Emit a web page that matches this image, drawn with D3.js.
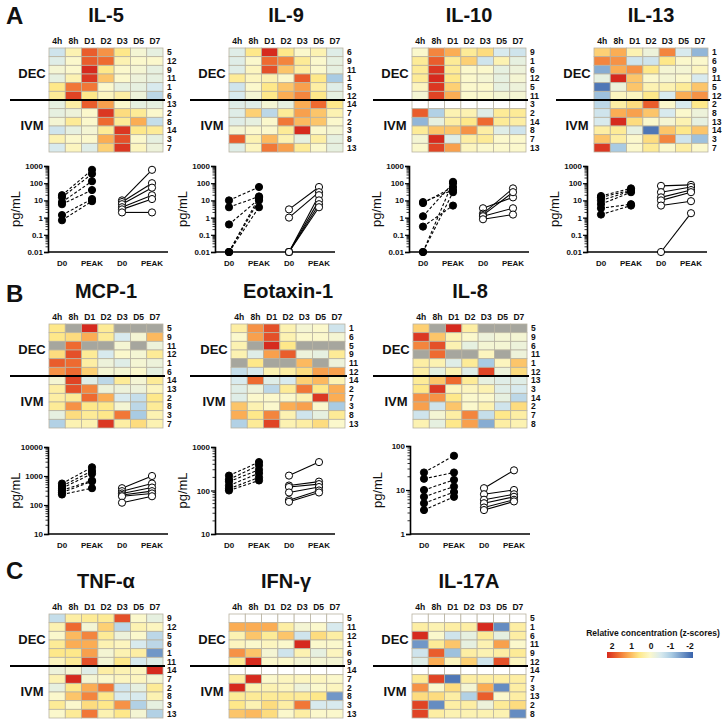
<!DOCTYPE html>
<html>
<head>
<meta charset="utf-8">
<script src="https://cdn.jsdelivr.net/npm/d3@7"></script>
<style>
  body { margin: 0; background: #fff; }
  text { font-family: "Liberation Sans", Arial, sans-serif; font-weight: bold; fill: #111; }
</style>
</head>
<body>
<svg width="727" height="723"></svg>
<script>
const timepoints = ["4h", "8h", "D1", "D2", "D3", "D5", "D7"];
const G = null; // below detection (grey)
const W = NaN;  // no sample (white)

// ---- heatmap z-scores (rows top to bottom, columns = timepoints)
const il5Rows = ["5","12","9","11","1","6","13","2","8","14","3","7"];
const il5Z = [
  [-0.6, 0.2, 1.6, 1.2, 0.5, -0.1, -0.3],
  [-0.4, 0, 1.6, 1.5, 0.2, 0, 0],
  [-0.1, 0, 2, 0.5, 0, -0.1, -0.3],
  [-0.3, 0.2, 1.9, 0.8, 0, -0.2, -0.3],
  [0.5, 1.4, 1.4, 0, -0.3, -0.3, -0.5],
  [0.4, 1.8, 0.5, 0.1, 0.3, -0.2, -0.8],
  [-0.3, 0.3, 1.6, 1.1, 0, -0.3, -0.3],
  [-0.3, -0.2, 0, 1.9, 0.6, 0.4, 0],
  [-0.1, 0.4, 0, 1.5, 0.4, 1.0, -0.7],
  [-0.6, -0.3, -0.1, 0.4, 1.9, 0.5, 0.4],
  [0.2, 0, 0, 1.0, 1.7, 0, -0.3],
  [-0.5, 0.1, -0.4, 0.7, 1.9, 0.1, -0.2]
];
const il9Rows = ["6","9","11","1","5","12","14","7","2","3","8","13"];
const il9Z = [
  [-0.4, 0.5, 2, 0.5, 0, 0.2, -0.4],
  [-0.4, 0, 1.5, 1.3, 0.4, 0, -0.3],
  [-0.4, 0.1, 1.7, 0.8, 0.3, 0, -0.3],
  [0.4, 0.1, 0.2, 0, 1.6, 0.5, -1.0],
  [-0.6, 0, 0.5, 0.8, 1.1, 0.3, -0.4],
  [-0.5, -0.1, 0.5, 1.0, 1.3, 0.5, -0.3],
  [-0.4, -0.4, -0.1, -0.3, 1.0, 1.5, 0.5],
  [-0.4, 0.7, -0.8, 0.4, 1.1, 0.8, 0.2],
  [-0.4, -0.3, 0, 1.4, 0.9, 0.8, 0],
  [-0.1, 0, 0, 0.4, 2.0, 0, -0.1],
  [1.6, 0.2, 0.9, 0.2, -0.3, 0.3, -0.3],
  [-0.4, 0.1, 1.4, 1.1, 0.4, 0, -0.3]
];
const il10Rows = ["9","1","6","12","5","11","3","2","14","8","7","13"];
const il10Z = [
  [0, 1.3, 1.0, 0.4, 0.6, -0.5, -0.6],
  [0.4, 1.6, 0.4, 0.7, -0.6, 0.2, -0.3],
  [0.4, 1.9, 0.4, 0, 0, -0.3, -0.2],
  [0.4, 2.0, 0.5, 0, -0.1, -0.3, -0.1],
  [0.1, 1.9, 0.7, 0, 0, -0.3, -0.2],
  [-0.1, 1.8, 1.0, 0, 0, -0.1, -0.1],
  [W, W, W, W, W, W, W],
  [1.6, -0.9, 0.2, 0.2, -0.4, 0.4, 0.4],
  [-1.2, -0.3, 0.3, 0.5, 1.5, 0.4, 0.3],
  [0.4, 0.8, 0.8, 1.2, 0.3, -0.4, -0.6],
  [-0.1, 2.0, -0.4, 0.3, 0.4, 0, 0],
  [0, 1.8, 1.1, 0.1, 0, 0, 0]
];
const il13Rows = ["1","6","9","11","5","12","2","8","13","14","3","7"];
const il13Z = [
  [0.7, 1.0, 0.2, -0.2, 1.3, -0.5, -1.2],
  [1.3, 1.2, -0.6, -0.6, 0.5, 0, 0],
  [-1.3, 1.0, 1.2, 0.5, -0.1, -0.1, 0.1],
  [-0.3, 2.0, 0.8, 0, -0.1, 0, -0.5],
  [-1.8, -0.2, 0.8, 0.2, 0.2, 0.4, 0.8],
  [-1.1, 0.1, 0.1, 0.5, -0.5, 1.0, 1.2],
  [-0.8, 0.3, 0.6, 1.6, 0, -0.5, 0.5],
  [-0.6, 1.0, 1.1, 0.8, -0.5, 0, -0.2],
  [-0.5, 2.0, 0.6, 0, -0.1, 0.2, -0.3],
  [0.3, 0.4, -0.3, -1.8, 0.8, 0.5, 0.8],
  [0.8, 0.3, 0, 0.6, 1.3, -0.6, -1.1],
  [1.9, -1.0, 0, 0.4, 0, 0.3, 0]
];
const mcpRows = ["5","9","11","12","1","6","14","13","2","8","3","7"];
const mcpZ = [
  [0.5, G, 2, 0.4, G, G, G],
  [0.5, 0.6, 1.0, 0.4, -0.5, -0.1, 0.9],
  [G, 1.5, G, G, -0.1, G, -0.2],
  [0.6, 1.7, 0.4, -0.5, 0, -0.1, 0.4],
  [1.6, 1.5, 0.3, -0.2, -0.4, -0.1, -0.2],
  [1.2, 1.5, 0.7, -0.1, -0.1, 0, -0.3],
  [-0.1, 1.8, -0.4, -0.8, 0.4, -0.1, 0.4],
  [0.3, 1.7, 1.3, -0.2, -0.2, -0.2, 0.1],
  [0.3, 0.4, 1.5, 1.0, -0.5, -0.7, 0.5],
  [0.4, 1.2, 0.5, 0.5, -0.1, -0.8, 0.4],
  [-0.3, 0.6, 0.4, 0.5, 1.4, -1.0, 0.2],
  [-0.9, 0.2, 0.2, 1.9, 0.3, 0.6, 0.2]
];
const eotRows = ["1","6","5","9","11","12","14","2","7","3","8","13"];
const eotZ = [
  [0.3, 1.2, 1.7, 0.2, -0.1, 0, -0.6],
  [0, 1.1, 1.7, 0.2, 0, 0, -0.1],
  [0.2, G, 2.0, 0.5, G, G, G],
  [0.2, -0.4, 1.1, 1.6, -0.2, -0.3, 0.4],
  [G, 0.5, G, G, 0.9, G, -0.2],
  [-0.7, -0.5, 0.2, 0.3, 0.6, 1.1, 1.1],
  [-0.5, 1.5, -0.4, -0.5, 0.7, 0.9, 0.2],
  [-0.4, -0.2, -0.8, 0.4, 1.4, 0.5, 1.0],
  [-0.4, 0, 0, 0, 0.2, 1.9, 1.0],
  [0.8, 0.2, 0, 1.0, 1.1, 0, -1.0],
  [1.0, 0.5, 1.3, 0.2, -0.6, -0.3, 0.4],
  [-0.9, 0.4, 1.8, 0.2, 0.3, 0.6, 0]
];
const il8Rows = ["5","9","6","11","1","12","13","3","14","2","7","8"];
const il8Z = [
  [0.7, G, 2.0, 0.3, G, G, G],
  [1.9, 0.8, 0.2, 0, -0.2, -0.1, -0.1],
  [1.3, 1.7, 0.2, -0.3, -0.1, -0.1, -0.2],
  [G, 1.5, G, G, 0.1, G, -0.2],
  [0.3, 0.2, -0.4, 0.4, -1.0, 0.1, 0.8],
  [0.3, -0.3, 0.2, -0.4, 1.8, -0.2, 0.6],
  [0.4, 0.8, 1.5, 0.4, -0.3, -0.4, -0.4],
  [0.5, 1.9, 0.1, 0.1, 0.2, -0.4, -0.5],
  [1.2, 1.2, 0.5, 0, 0, -0.3, -0.8],
  [1.1, -0.6, 0.8, 0, 0.2, -0.6, 0.6],
  [-0.6, -0.1, 0.3, 1.3, -0.7, 0.5, 0.3],
  [0.2, -0.3, 0.5, 1.1, -1.3, 0.3, 0.2]
];
const tnfRows = ["9","12","5","6","1","11","14","7","2","8","3","13"];
const tnfZ = [
  [-0.7, 0.3, 0.4, 0.4, 1.7, 0, -0.3],
  [0.2, 1.5, -0.1, 0.7, -0.8, 0.2, 0.1],
  [0, 0.9, 1.3, 0.4, -0.2, 0, -0.8],
  [0.4, 1.0, 1.0, 0.2, 0.1, -0.5, -0.8],
  [0.5, 0.5, 1.1, -0.1, 0.2, 0.3, -1.5],
  [0.1, 0.4, 1.7, -0.1, 0.5, -0.5, -0.4],
  [-0.2, -0.1, -0.4, 0.3, 0.2, 0.1, 2.0],
  [0.2, 2.0, -0.1, 0, 0.1, 0.1, -0.1],
  [-0.3, 0.5, 1.0, 1.4, -0.6, -0.3, 0.4],
  [0, 0.8, 1.3, 0.5, -0.5, -0.5, 0.2],
  [0.4, 0, 0.6, 0.5, 1.2, -0.9, -0.3],
  [0, 0.4, 1.4, 0.2, 0.5, -0.1, -0.9]
];
const ifnRows = ["5","11","12","1","6","9","14","7","2","8","3","13"];
const ifnZ = [
  [W, W, W, W, W, W, W],
  [1.0, 1.0, 1.0, 0.3, -0.1, 0, -0.5],
  [0.2, 0.8, 0.4, 0.8, -0.6, 0.6, 0.3],
  [0.1, 0, 0.1, 0, 2.0, 0, 0],
  [1.2, 0.8, -0.1, -0.6, 0.2, -0.3, 0.1],
  [0.4, 2.0, 0, 0, -0.1, -0.1, -0.1],
  [W, W, W, W, W, W, W],
  [0.3, 2.0, 0, 0.1, 0.1, 0.1, 0],
  [2.0, 0.2, 0.2, 0.1, -0.2, 0, 0.1],
  [0.4, 0.4, 0.4, 0.4, 0.4, 0.5, -1.5],
  [0.5, 0.2, 0.6, 0.3, 1.4, -0.5, -0.5],
  [0.8, 0.9, 0.6, 0, 0.3, 0, 0]
];
const il17Rows = ["5","1","6","11","9","12","14","7","3","13","2","8"];
const il17Z = [
  [W, W, W, W, W, W, W],
  [0.3, 0.2, 0.3, 0.3, 2.0, -1.6, 0.3],
  [2.0, 0, -0.6, -0.3, 0.4, -0.3, 0.3],
  [-1.5, 0.4, 0.8, -0.3, 0.2, 1.1, 0],
  [-0.6, 1.6, -1.1, 0.3, 0.2, 0.3, 0.4],
  [-0.4, 1.0, 0.1, 0.7, -0.6, 1.7, 0.1],
  [W, W, W, W, W, W, W],
  [0.4, 1.8, -1.8, 0.3, 0.3, 0.3, 0.3],
  [1.2, 0, 0.6, -0.1, 1.0, -1.6, 0.3],
  [0.6, 0.6, 0.3, -0.9, 1.6, 0, 0.3],
  [1.8, -1.6, 0.3, 0.3, -0.2, 0.4, 0.6],
  [1.8, 0.3, 0.2, 0.2, 0.2, 0.2, -1.6]
];

// ---- D0 vs PEAK concentrations (pg/mL)
const il5DecD0 = [20, 15, 8, 6, 1.4, 0.7];
const il5DecPeak = [600, 350, 130, 40, 12, 9];
const il5IvmD0 = [10, 8, 6, 4, 3, 2];
const il5IvmPeak = [600, 100, 55, 20, 12, 2];
const il9DecD0 = [10, 4, 0.4, 0.01, 0.01, 0.01];
const il9DecPeak = [60, 17, 12, 10, 4, 15];
const il9IvmD0 = [3, 1, 0.01, 0.01, 0.01, 0.01];
const il9IvmPeak = [60, 30, 20, 10, 6, 4];
const il10DecD0 = [8, 7, 1.2, 0.3, 0.01, 0.01];
const il10DecPeak = [40, 60, 100, 5, 120, 30];
const il10IvmD0 = [3.5, 1.7, 1.4, 1.2, 0.8];
const il10IvmPeak = [15, 50, 30, 3.5, 1.5];
const il13DecD0 = [18, 15, 10, 6, 3.5, 1.5];
const il13DecPeak = [50, 40, 35, 30, 6, 5];
const il13IvmD0 = [70, 30, 15, 10, 5, 0.01];
const il13IvmPeak = [80, 60, 40, 30, 9, 1.8];
const mcpDecD0 = [550, 450, 380, 320, 270, 230];
const mcpDecPeak = [2000, 1500, 1200, 700, 650, 380];
const mcpIvmD0 = [380, 300, 250, 220, 200, 120];
const mcpIvmPeak = [1000, 550, 400, 300, 250, 200];
const eotDecD0 = [220, 180, 160, 130, 110, 100];
const eotDecPeak = [450, 380, 300, 250, 200, 170];
const eotIvmD0 = [220, 130, 120, 90, 60, 55];
const eotIvmPeak = [450, 160, 140, 120, 100, 90];
const il8DecD0 = [25, 18, 10, 7, 5, 3.5];
const il8DecPeak = [60, 25, 17, 12, 9, 7];
const il8IvmD0 = [11, 8, 6, 5, 4, 3.5];
const il8IvmPeak = [28, 10, 8, 7, 6, 5.5];

const legendTicks = [2, 1, 0, -1, -2];

const svg = d3.select("svg");

const color = d3.scaleLinear()
  .domain([2, 1.5, 1, 0.5, 0, -0.5, -1, -2])
  .range(["#d62a1e", "#ee6a30", "#fbad54", "#fee88a", "#fbf8cc", "#d8eaee", "#a9cbe3", "#3862ab"])
  .clamp(true);

function heatmap(x0, y0, lineX0, title, rows, z) {
  const g = svg.append("g");
  const x = d3.scaleBand().domain(timepoints).range([x0, x0 + 114]);
  const y = d3.scaleBand().domain(rows).range([y0, y0 + 104]);

  g.append("text").attr("x", x0 + 57).attr("y", y0 - 26)
    .attr("text-anchor", "middle").style("font-size", "20px").text(title);

  g.selectAll(".col").data(timepoints).join("text")
    .attr("x", d => x(d) + x.bandwidth() / 2).attr("y", y0 - 4)
    .attr("text-anchor", "middle").style("font-size", "8.5px").text(d => d);

  rows.forEach((r, i) => {
    g.selectAll(null).data(z[i]).join("rect")
      .attr("x", (d, j) => x(timepoints[j])).attr("y", y(r))
      .attr("width", x.bandwidth()).attr("height", y.bandwidth())
      .attr("fill", d => d === null ? "#a6a69e" : Number.isNaN(d) ? "#fff" : color(d))
      .attr("stroke", "#b9b3a2").attr("stroke-width", 0.8);
    g.append("text").attr("x", x0 + 118).attr("y", y(r) + y.bandwidth() / 2 + 3)
      .style("font-size", "8.5px").text(r);
  });

  g.append("line").attr("x1", lineX0).attr("x2", x0 + 116)
    .attr("y1", y(rows[6])).attr("y2", y(rows[6]))
    .attr("stroke", "#000").attr("stroke-width", 1.8);

  g.append("text").attr("x", x0 - 17).attr("y", y0 + 30).attr("text-anchor", "middle")
    .style("font-size", "13px").text("DEC");
  g.append("text").attr("x", x0 - 17).attr("y", y0 + 82).attr("text-anchor", "middle")
    .style("font-size", "13px").text("IVM");
}

const fmtTick = v => v >= 1 ? d3.format("d")(v) : String(v);

function pairPlot(x0, yTop, yBot, domain, decD0, decPeak, ivmD0, ivmPeak) {
  const g = svg.append("g");
  const x = d3.scalePoint().domain(["dec0", "decP", "ivm0", "ivmP"]).range([x0 + 14, x0 + 104]);
  const y = d3.scaleLog().domain(domain).range([yBot, yTop]);
  const decades = y.ticks().filter(v => Math.abs(Math.log10(v) - Math.round(Math.log10(v))) < 1e-6);

  const axis = d3.axisLeft(y).tickValues(decades).tickFormat(fmtTick).tickSize(4);
  const ax = g.append("g").attr("transform", `translate(${x0},0)`).call(axis);
  ax.select(".domain").attr("stroke-width", 1.6);
  ax.selectAll(".tick line").attr("stroke-width", 1.2);
  ax.selectAll(".tick text").style("font-size", "8px").attr("x", -5);

  g.selectAll(".minor").data(y.ticks().filter(v => !decades.includes(v))).join("line")
    .attr("x1", x0 - 2.5).attr("x2", x0).attr("y1", d => y(d)).attr("y2", d => y(d))
    .attr("stroke", "#000").attr("stroke-width", 0.8);

  g.append("line").attr("x1", x0).attr("x2", x0 + 120).attr("y1", yBot).attr("y2", yBot)
    .attr("stroke", "#000").attr("stroke-width", 1.6);

  [["dec0", "D0"], ["decP", "PEAK"], ["ivm0", "D0"], ["ivmP", "PEAK"]].forEach(([k, t]) => {
    g.append("text").attr("x", x(k)).attr("y", yBot + 14).attr("text-anchor", "middle")
      .style("font-size", "8px").text(t);
  });

  g.append("text").attr("transform", `translate(${x0 - 28},${(yTop + yBot) / 2}) rotate(-90)`)
    .attr("text-anchor", "middle").style("font-size", "13px").style("font-weight", "normal").text("pg/mL");

  const groups = [
    { d0: decD0, pk: decPeak, k0: "dec0", kp: "decP", fill: "#000", dash: "3,2" },
    { d0: ivmD0, pk: ivmPeak, k0: "ivm0", kp: "ivmP", fill: "#fff", dash: null }
  ];
  groups.forEach(s => {
    s.d0.forEach((v, i) => {
      g.append("line").attr("x1", x(s.k0)).attr("y1", y(v)).attr("x2", x(s.kp)).attr("y2", y(s.pk[i]))
        .attr("stroke", "#000").attr("stroke-width", 1.1).attr("stroke-dasharray", s.dash);
    });
    const pts = s.d0.map(v => [s.k0, v]).concat(s.pk.map(v => [s.kp, v]));
    g.selectAll(null).data(pts).join("circle")
      .attr("cx", d => x(d[0])).attr("cy", d => y(d[1])).attr("r", 3.6)
      .attr("fill", s.fill).attr("stroke", "#000").attr("stroke-width", 1);
  });
}

// panel letters
[["A", 24], ["B", 302], ["C", 579]].forEach(([t, yy]) => {
  svg.append("text").attr("x", 6).attr("y", yy).style("font-size", "24px").text(t);
});

// panel A
heatmap(49, 48, 10, "IL-5", il5Rows, il5Z);
heatmap(229, 48, 190, "IL-9", il9Rows, il9Z);
heatmap(412, 48, 373, "IL-10", il10Rows, il10Z);
heatmap(594, 48, 556, "IL-13", il13Rows, il13Z);
pairPlot(48, 166, 252, [0.01, 1000], il5DecD0, il5DecPeak, il5IvmD0, il5IvmPeak);
pairPlot(215, 166, 252, [0.01, 1000], il9DecD0, il9DecPeak, il9IvmD0, il9IvmPeak);
pairPlot(409, 166, 252, [0.01, 1000], il10DecD0, il10DecPeak, il10IvmD0, il10IvmPeak);
pairPlot(587, 166, 252, [0.01, 1000], il13DecD0, il13DecPeak, il13IvmD0, il13IvmPeak);

// panel B
heatmap(49, 324, 10, "MCP-1", mcpRows, mcpZ);
heatmap(231, 324, 190, "Eotaxin-1", eotRows, eotZ);
heatmap(413, 324, 373, "IL-8", il8Rows, il8Z);
pairPlot(48, 447, 534, [10, 10000], mcpDecD0, mcpDecPeak, mcpIvmD0, mcpIvmPeak);
pairPlot(215, 447, 534, [10, 1000], eotDecD0, eotDecPeak, eotIvmD0, eotIvmPeak);
pairPlot(410, 446, 534, [1, 100], il8DecD0, il8DecPeak, il8IvmD0, il8IvmPeak);

// panel C
heatmap(49, 614, 10, "TNF-α", tnfRows, tnfZ);
heatmap(229, 614, 190, "IFN-γ", ifnRows, ifnZ);
heatmap(412, 614, 373, "IL-17A", il17Rows, il17Z);

// legend
const lg = svg.append("g");
lg.append("text").attr("x", 653).attr("y", 636).attr("text-anchor", "middle")
  .style("font-size", "8.5px").text("Relative concentration (z-scores)");
const lx = d3.scaleLinear().domain([2, -2]).range([612, 690]);
const grad = svg.append("defs").append("linearGradient").attr("id", "zgrad");
d3.range(2, -2.01, -0.25).forEach(v => {
  grad.append("stop").attr("offset", (2 - v) / 4).attr("stop-color", color(v));
});
lg.append("rect").attr("x", 607).attr("y", 652).attr("width", 86).attr("height", 6)
  .attr("fill", "url(#zgrad)");
lg.selectAll(".lt").data(legendTicks).join("text")
  .attr("x", d => lx(d)).attr("y", 649).attr("text-anchor", "middle")
  .style("font-size", "8.5px").text(d => d);
</script>
</body>
</html>
